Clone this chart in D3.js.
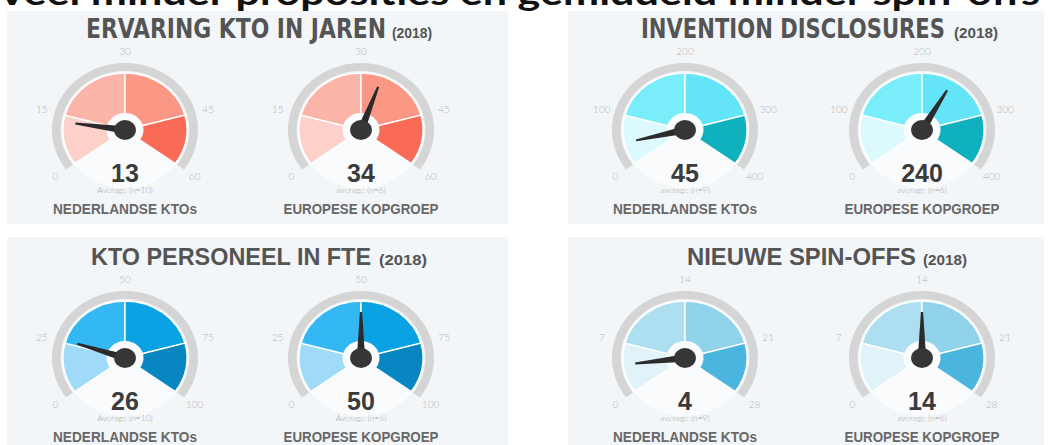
<!DOCTYPE html>
<html><head><meta charset="utf-8">
<script src="https://cdn.jsdelivr.net/npm/d3@7"></script>
<style>
html,body{margin:0;padding:0;background:#fff;overflow:hidden}
svg{display:block}
</style></head>
<body>
<svg id="chart" width="1058" height="445"></svg>
<script>
// ---------- data ----------
const headline = "Veel minder proposities en gemiddeld minder spin-offs";
const panelTitles = ["ERVARING KTO IN JAREN", "INVENTION DISCLOSURES", "KTO PERSONEEL IN FTE", "NIEUWE SPIN-OFFS"];
const panelYears = ["(2018)", "(2018)", "(2018)", "(2018)"];
const groupLabels = ["NEDERLANDSE KTOs", "EUROPESE KOPGROEP"];
const nlValues = [13, 45, 26, 4];
const euValues = [34, 240, 50, 14];
const tickValues = [
  [0, 15, 30, 45, 60],
  [0, 100, 200, 300, 400],
  [0, 25, 50, 75, 100],
  [0, 7, 14, 21, 28]
];
const nlAverageLabels = ["Average (n=10)", "average (n=9)", "Average (n=10)", "average (n=9)"];
const euAverageLabels = ["average (n=6)", "average (n=6)", "Average (n=6)", "average (n=6)"];
const palettes = [
  ["#fdd0c9", "#fcb4a8", "#fb9785", "#fa6b57"],
  ["#dcfafe", "#7aedfa", "#63e5f7", "#0fb1bf"],
  ["#9fdbf8", "#34b8f3", "#0aa2e2", "#0786c2"],
  ["#e1f3f9", "#addff0", "#92d3ec", "#4ab6df"]
];

// ---------- layout / style ----------
const svg = d3.select("#chart");
const panels = [
  {x: 7, y: 11, w: 501, h: 213, titleX: 86, titleLen: 300, titleFs: 27, yearX: 392, yearLen: 40, titleY: 38},
  {x: 568, y: 11, w: 476, h: 213, titleX: 641, titleLen: 304, titleFs: 27, yearX: 954, yearLen: 44, titleY: 38},
  {x: 7, y: 237, w: 501, h: 220, titleX: 91, titleLen: 280, titleFs: 24, yearX: 379, yearLen: 48, titleY: 265},
  {x: 568, y: 237, w: 476, h: 220, titleX: 687, titleLen: 229, titleFs: 24, yearX: 923, yearLen: 44, titleY: 265}
];
const gaugeCY = [130, 130, 358, 358];
const sx = 1.09;           // horizontal stretch of the gauges
const angleRange = [-126, -75, 0, 75, 126];
const rad = d => d * Math.PI / 180;

// headline (partly cut off at the top, as in the source)
svg.append("text")
  .attr("x", -3).attr("y", 5)
  .attr("textLength", 1043).attr("lengthAdjust", "spacingAndGlyphs")
  .style("font-family", "Lato, 'Open Sans', sans-serif")
  .style("font-weight", 700).style("font-size", "34px").attr("fill", "#111")
  .text(headline);

panels.forEach((p, i) => {
  const g = svg.append("g");
  g.append("rect").attr("x", p.x).attr("y", p.y).attr("width", p.w).attr("height", p.h).attr("fill", "#f3f6f9");

  const condensed = i < 2;
  g.append("text")
    .attr("x", p.titleX).attr("y", p.titleY)
    .attr("textLength", p.titleLen).attr("lengthAdjust", "spacingAndGlyphs")
    .style("font-family", condensed ? "'Liberation Sans Narrow','DejaVu Sans Condensed','Liberation Sans',sans-serif" : "'Liberation Sans',Arial,sans-serif")
    .style("font-weight", 700).style("font-size", p.titleFs + "px").attr("fill", "#545454")
    .text(panelTitles[i]);
  g.append("text")
    .attr("x", p.yearX).attr("y", p.titleY)
    .attr("textLength", p.yearLen).attr("lengthAdjust", "spacingAndGlyphs")
    .style("font-family", "'Liberation Sans',Arial,sans-serif")
    .style("font-weight", 700).style("font-size", "15px").attr("fill", "#545454")
    .text(panelYears[i]);

  const gauges = [
    {cx: p.x + 118, val: nlValues[i], avg: nlAverageLabels[i], label: groupLabels[0], labLen: 144},
    {cx: p.x + 354, val: euValues[i], avg: euAverageLabels[i], label: groupLabels[1], labLen: 155}
  ];
  if (i % 2 === 1) { gauges[0].cx = p.x + 117; gauges[1].cx = p.x + 354; }

  const ticks = tickValues[i];
  const angle = d3.scaleLinear().domain(ticks).range(angleRange);
  const segs = d3.pairs(ticks);
  const color = d3.scaleOrdinal().domain(d3.range(segs.length)).range(palettes[i]);

  gauges.forEach(gg => {
    const cy = gaugeCY[i];
    const G = g.append("g").attr("transform", `translate(${gg.cx},${cy}) scale(${sx},1)`);
    // grey outer band
    G.append("path").attr("d", d3.arc()({innerRadius: 59, outerRadius: 67,
      startAngle: rad(angle(ticks[0])), endAngle: rad(angle(ticks[ticks.length - 1]))}))
      .attr("fill", "#d5d5d5");
    // light bottom wedge
    G.append("path").attr("d", d3.arc()({innerRadius: 0, outerRadius: 58,
      startAngle: rad(angle(ticks[ticks.length - 1])), endAngle: rad(360 + angle(ticks[0]))}))
      .attr("fill", "#f9fbfc");
    // coloured segments
    G.selectAll("path.seg").data(segs).join("path").attr("class", "seg")
      .attr("d", d => d3.arc()({innerRadius: 0, outerRadius: 57,
        startAngle: rad(angle(d[0])), endAngle: rad(angle(d[1]))}))
      .attr("fill", (d, k) => color(k))
      .attr("stroke", "#fff").attr("stroke-width", 1.3).attr("stroke-linejoin", "round");
    // white ring
    G.append("circle").attr("r", 17).attr("fill", "#fbfcfd");
    // needle
    G.append("g").attr("transform", `rotate(${angle(gg.val)})`)
      .append("path").attr("d", "M-3.8,0 L-1,-46 L1,-46 L3.8,0 Z").attr("fill", "#2b2b2b");
    G.append("circle").attr("r", 10).attr("fill", "#363636");

    // tick labels
    g.selectAll(null).data(ticks).join("text")
      .attr("x", t => gg.cx + sx * 79 * Math.sin(rad(angle(t))))
      .attr("y", t => cy - 79 * Math.cos(rad(angle(t))) + 3.5)
      .attr("text-anchor", "middle")
      .style("font-family", "Lato, sans-serif").style("font-weight", 300)
      .style("font-size", "10px").attr("fill", "#b4b4b4")
      .text(t => t);

    // value, average note, group label
    g.append("text").attr("x", gg.cx).attr("y", cy + 52).attr("text-anchor", "middle")
      .style("font-family", "'Liberation Sans',Arial,sans-serif").style("font-weight", 700)
      .style("font-size", "25px").attr("fill", "#3b3b3b").text(gg.val);
    g.append("text").attr("x", gg.cx).attr("y", cy + 62.5).attr("text-anchor", "middle")
      .style("font-family", "Lato, sans-serif").style("font-weight", 300)
      .style("font-size", "8.5px").attr("fill", "#a8a8a8").text(gg.avg);
    g.append("text").attr("x", gg.cx).attr("y", cy + 84).attr("text-anchor", "middle")
      .attr("textLength", gg.labLen).attr("lengthAdjust", "spacingAndGlyphs")
      .style("font-family", "'Liberation Sans',Arial,sans-serif").style("font-weight", 700)
      .style("font-size", "14px").attr("fill", "#676767").text(gg.label);
  });
});
</script>
</body></html>
